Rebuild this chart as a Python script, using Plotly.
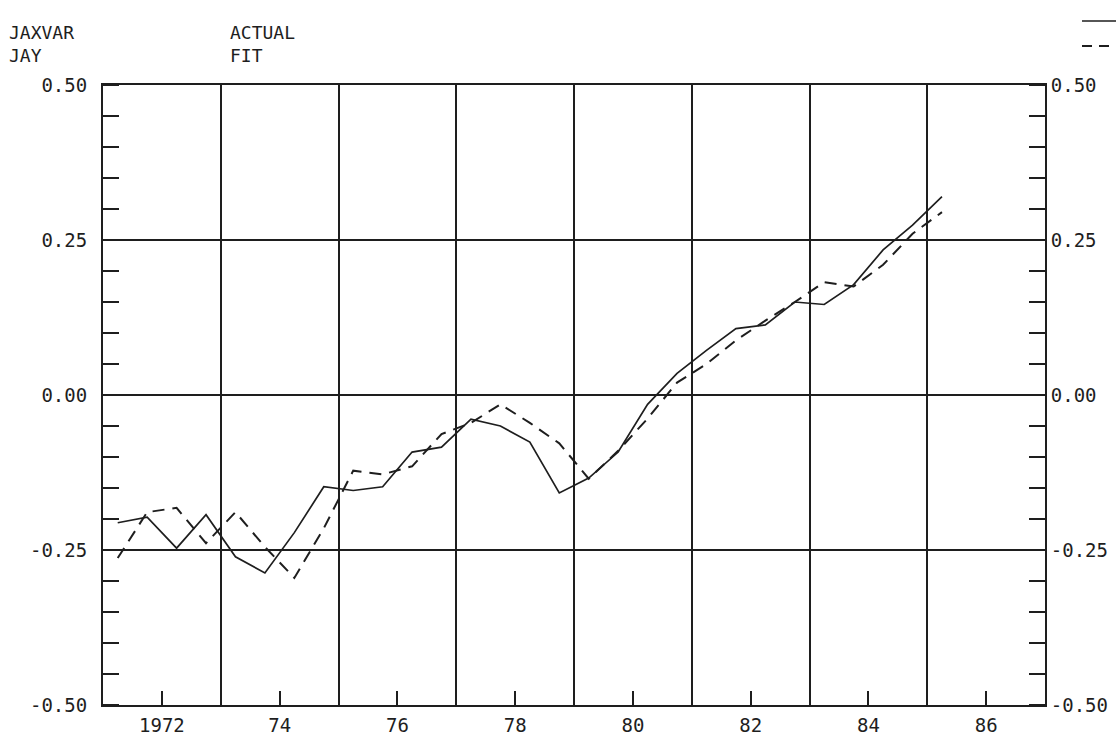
import plotly.graph_objects as go

# ---- data (semi-annual observations) ----
periods = [1971.25, 1971.75, 1972.25, 1972.75, 1973.25, 1973.75, 1974.25, 1974.75,
           1975.25, 1975.75, 1976.25, 1976.75, 1977.25, 1977.75, 1978.25, 1978.75,
           1979.25, 1979.75, 1980.25, 1980.75, 1981.25, 1981.75, 1982.25, 1982.75,
           1983.25, 1983.75, 1984.25, 1984.75, 1985.25]
actual = [-0.206, -0.197, -0.247, -0.193, -0.261, -0.287, -0.222, -0.148,
          -0.154, -0.148, -0.092, -0.084, -0.039, -0.050, -0.076, -0.158,
          -0.134, -0.092, -0.015, 0.035, 0.072, 0.107, 0.113, 0.150,
          0.146, 0.178, 0.234, 0.274, 0.320]
fit = [-0.263, -0.189, -0.182, -0.239, -0.189, -0.245, -0.295, -0.215,
       -0.122, -0.128, -0.115, -0.063, -0.045, -0.015, -0.045, -0.078,
       -0.135, -0.090, -0.038, 0.020, 0.050, 0.088, 0.120, 0.150,
       0.182, 0.175, 0.210, 0.260, 0.295]

x_tickvals = [1972, 1974, 1976, 1978, 1980, 1982, 1984, 1986]
x_ticktext = ["1972", "74", "76", "78", "80", "82", "84", "86"]
y_tickvals = [-0.5, -0.25, 0.0, 0.25, 0.5]
y_ticktext = ["-0.50", "-0.25", "0.00", "0.25", "0.50"]

INK = "#1e1e1e"
FONT = dict(family="DejaVu Sans Mono", size=19, color=INK)
HFONT = dict(family="DejaVu Sans Mono", size=18, color=INK)

fig = go.Figure()
fig.add_trace(go.Scatter(x=periods, y=actual, mode="lines", name="ACTUAL",
                         line=dict(color=INK, width=1.7), showlegend=False))
fig.add_trace(go.Scatter(x=periods, y=fit, mode="lines", name="FIT",
                         line=dict(color=INK, width=2, dash="12px,8px"),
                         showlegend=False))
# invisible companion trace so the right-hand value axis is drawn
fig.add_trace(go.Scatter(x=periods, y=actual, mode="lines", yaxis="y2",
                         line=dict(color="rgba(0,0,0,0)", width=0),
                         hoverinfo="skip", showlegend=False))

fig.update_layout(
    width=1116, height=736,
    margin=dict(l=103, r=71, t=85, b=31),
    paper_bgcolor="white", plot_bgcolor="white",
    font=FONT,
    xaxis=dict(
        range=[1971, 1987], tickmode="array", tickvals=x_tickvals, ticktext=x_ticktext,
        ticks="inside", ticklen=14, tickwidth=1.5, tickcolor=INK,
        showgrid=False, zeroline=False, automargin=False,
        showline=True, linecolor=INK, linewidth=2, mirror=True,
        minor=dict(tick0=1973, dtick=2, showgrid=True, gridcolor=INK, gridwidth=1.5,
                   ticks=""),
        tickfont=FONT, ticklabelstandoff=2,
    ),
    yaxis=dict(
        range=[-0.5, 0.5], tickmode="array", tickvals=y_tickvals, ticktext=y_ticktext,
        ticks="", showgrid=True, gridcolor=INK, gridwidth=1.5, zeroline=False,
        showline=True, linecolor=INK, linewidth=2, automargin=False,
        minor=dict(dtick=0.05, tick0=0, ticks="inside", ticklen=16, tickwidth=1.5,
                   tickcolor=INK, showgrid=False),
        ticklabelstandoff=10,
        tickfont=FONT,
    ),
    yaxis2=dict(
        range=[-0.5, 0.5], overlaying="y", side="right", anchor="x",
        tickmode="array", tickvals=y_tickvals, ticktext=y_ticktext,
        ticks="", showgrid=False, zeroline=False, automargin=False,
        showline=True, linecolor=INK, linewidth=2,
        minor=dict(dtick=0.05, tick0=0, ticks="inside", ticklen=16, tickwidth=1.5,
                   tickcolor=INK, showgrid=False),
        ticklabelstandoff=0,
        tickfont=FONT,
    ),
)

# header texts
def px_x(p):
    return (p - 103) / 942.0

def px_y(p):
    return (705 - p) / 620.0

for txt, xp in [("JAXVAR<br>JAY", 8), ("ACTUAL<br>FIT", 229)]:
    fig.add_annotation(text=txt, xref="paper", yref="paper", x=px_x(xp), y=px_y(21),
                       xanchor="left", yanchor="top", align="left", showarrow=False,
                       font=HFONT, borderpad=0)

# line-style key at top right
fig.add_shape(type="line", xref="paper", yref="paper", x0=px_x(1082), x1=px_x(1116),
              y0=px_y(21), y1=px_y(21), line=dict(color=INK, width=1.5))
fig.add_shape(type="line", xref="paper", yref="paper", x0=px_x(1082), x1=px_x(1116),
              y0=px_y(46), y1=px_y(46), line=dict(color=INK, width=1.8, dash="10px,7px"))

fig.write_html("out.html")
